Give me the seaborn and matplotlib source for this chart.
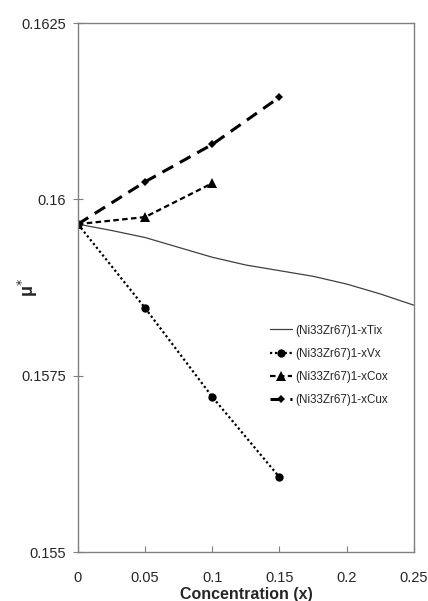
import matplotlib
matplotlib.use("Agg")
import matplotlib.pyplot as plt
import seaborn as sns

# values
x_ti = [0, 0.025, 0.05, 0.075, 0.1, 0.125, 0.15, 0.175, 0.2, 0.225, 0.25]
mu_ti = [0.15965, 0.15956, 0.15946, 0.15932, 0.15918, 0.15907, 0.15899, 0.15891, 0.1588, 0.15866, 0.1585]
x_v = [0, 0.05, 0.1, 0.15]
mu_v = [0.15965, 0.15846, 0.1572, 0.15606]
x_co = [0, 0.05, 0.1]
mu_co = [0.15965, 0.15975, 0.16023]
x_cu = [0, 0.05, 0.1, 0.15]
mu_cu = [0.15965, 0.16025, 0.16078, 0.16145]

x_ticks = [0, 0.05, 0.1, 0.15, 0.2, 0.25]
x_tick_labels = ['0', '0.05', '0.1', '0.15', '0.2', '0.25']
y_ticks = [0.155, 0.1575, 0.16, 0.1625]
y_tick_labels = ['0.155', '0.1575', '0.16', '0.1625']

sns.set_style("white")
plt.rcParams['font.family'] = ['Liberation Sans', 'DejaVu Sans']

fig = plt.figure(figsize=(4.28, 6.01), dpi=100)
ax = fig.add_axes([0.182, 0.0815, 0.785, 0.88])

sns.lineplot(ax=ax, x=x_ti, y=mu_ti, color='#404040', linewidth=0.9,
             label='(Ni33Zr67)1-xTix')
sns.lineplot(ax=ax, x=x_v, y=mu_v, color='black', linewidth=1.6, linestyle=(0, (1, 1.2)),
             marker='o', markersize=6, markeredgewidth=0, label='(Ni33Zr67)1-xVx')
sns.lineplot(ax=ax, x=x_co, y=mu_co, color='black', linewidth=1.6, linestyle=(0, (2.5, 1.5)),
             marker='^', markersize=6.5, markeredgewidth=0, label='(Ni33Zr67)1-xCox')
sns.lineplot(ax=ax, x=x_cu, y=mu_cu, color='black', linewidth=2.2, linestyle=(0, (4, 2.5)),
             marker='D', markersize=4, markeredgewidth=0, label='(Ni33Zr67)1-xCux')

ax.set_xlim(0, 0.25)
ax.set_ylim(0.155, 0.1625)
ax.set_xticks(x_ticks)
ax.set_xticklabels(x_tick_labels)
ax.set_yticks(y_ticks)
ax.set_yticklabels(y_tick_labels)
ax.tick_params(axis='x', direction='in', length=4, width=0.8, color='#808080',
               pad=14, labelsize=10.5)
ax.tick_params(axis='y', direction='inout', length=7, width=0.8, color='#808080',
               pad=5, labelsize=10.5)
ax.tick_params(axis='x', bottom=True)
ax.tick_params(axis='y', left=True)

for s in ax.spines.values():
    s.set_color('#808080')
    s.set_linewidth(1.0)

ax.set_xlabel('Concentration (x)', fontsize=11.5, fontweight='bold', labelpad=1)
ax.set_ylabel('μ$^{*}$', fontsize=13, fontweight='bold', rotation=90)
ax.yaxis.set_label_coords(-0.112, 0.5)

ax.legend(loc='upper left', bbox_to_anchor=(0.54, 0.45), frameon=False,
          fontsize=8.4, handlelength=1.9, labelspacing=0.95, handletextpad=0.3)

fig.savefig('out.png', dpi=100)
